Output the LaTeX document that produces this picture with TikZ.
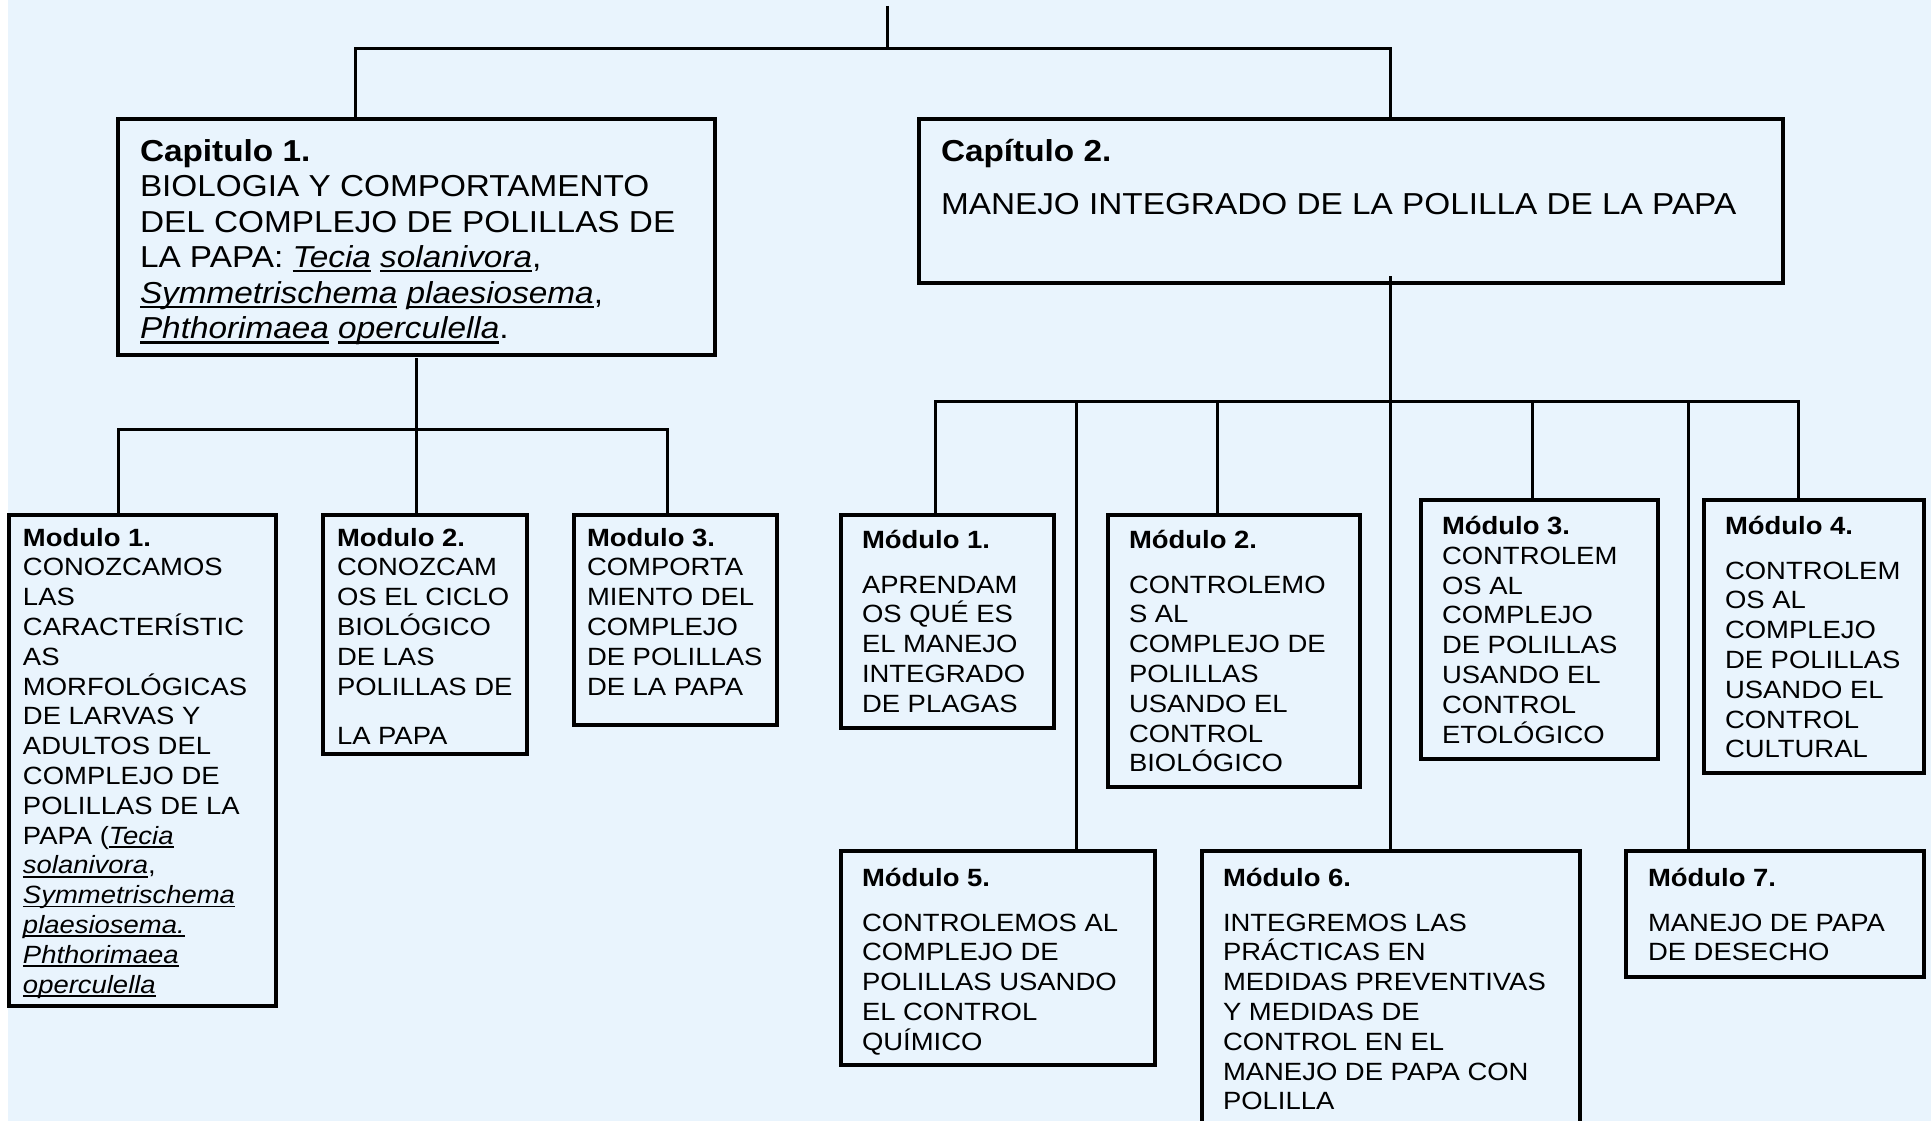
\documentclass[tikz,border=0pt]{standalone}
\usepackage{fontspec}
\setmainfont{Liberation Sans}[FakeStretch=1.1]
\usetikzlibrary{calc}
\definecolor{bg}{RGB}{233,244,253}
\newcommand\uw[1]{{\setbox0=\hbox{\itshape #1}\rlap{\rule[-0.15em]{\wd0}{0.07em}}\box0}}
\newcommand\Lh[1]{\hbox{#1}}
\newcommand\gap[1]{\vskip #1pt}
\newcommand\stack[1]{\vtop{\lineskiplimit=-1000pt\lineskip=0pt #1}}
\newcommand\capfont{\fontsize{30.3}{35.6}\selectfont}
\newcommand\modfont{\fontsize{24.95}{29.8}\selectfont}
\begin{document}
\begin{tikzpicture}[x=1pt,y=-1pt,
  box/.style={draw, line width=3.4pt, rectangle, inner sep=0pt, outer sep=0pt, anchor=north west},
  conn/.style={line width=3pt},
  ctxt/.style={anchor=base west, inner sep=0pt, outer sep=0pt, font=\capfont},
  mtxt/.style={anchor=base west, inner sep=0pt, outer sep=0pt, font=\modfont}]
\useasboundingbox (0,0) rectangle (1931,1121);
\clip (0,0) rectangle (1931,1121);
\fill[white] (0,0) rectangle (1931,1121);
\fill[bg] (8,0) rectangle (1931,1121);

% boxes
\node[box, minimum width=597pt, minimum height=236pt] (c1) at (118,119) {};
\node[box, minimum width=864pt, minimum height=164pt] (c2) at (919,119) {};
\node[box, minimum width=267pt, minimum height=491pt] (a1) at (9,515) {};
\node[box, minimum width=204pt, minimum height=239pt] (a2) at (323,515) {};
\node[box, minimum width=203pt, minimum height=210pt] (a3) at (574,515) {};
\node[box, minimum width=213pt, minimum height=213pt] (b1) at (841,515) {};
\node[box, minimum width=252pt, minimum height=272pt] (b2) at (1108,515) {};
\node[box, minimum width=237pt, minimum height=259pt] (b3) at (1421,500) {};
\node[box, minimum width=220pt, minimum height=273pt] (b4) at (1704,500) {};
\node[box, minimum width=314pt, minimum height=214pt] (b5) at (841,851) {};
\node[box, minimum width=378pt, minimum height=290pt] (b6) at (1202,851) {};
\node[box, minimum width=298pt, minimum height=126pt] (b7) at (1626,851) {};

% texts
\node[ctxt] (c1t) at (140,161) {\stack{%
  \Lh{\bfseries Capitulo 1.}%
  \Lh{BIOLOGIA Y COMPORTAMENTO}%
  \Lh{DEL COMPLEJO DE POLILLAS DE}%
  \Lh{LA PAPA: \uw{Tecia} \uw{solanivora},}%
  \Lh{\uw{Symmetrischema} \uw{plaesiosema},}%
  \Lh{\uw{Phthorimaea} \uw{operculella}.}}};
\node[ctxt] (c2t) at (941,161) {\stack{%
  \Lh{\bfseries Capítulo 2.}\gap{17.4}%
  \Lh{MANEJO INTEGRADO DE LA POLILLA DE LA PAPA}}};

\node[mtxt] (a1t) at (23,546) {\stack{%
  \Lh{\bfseries Modulo 1.}%
  \Lh{CONOZCAMOS}\Lh{LAS}\Lh{CARACTERÍSTIC}\Lh{AS}\Lh{MORFOLÓGICAS}%
  \Lh{DE LARVAS Y}\Lh{ADULTOS DEL}\Lh{COMPLEJO DE}\Lh{POLILLAS DE LA}%
  \Lh{PAPA (\uw{Tecia}}\Lh{\uw{solanivora},}\Lh{\uw{Symmetrischema}}%
  \Lh{\uw{plaesiosema.}}\Lh{\uw{Phthorimaea}}\Lh{\uw{operculella}}}};
\node[mtxt] (a2t) at (337,546) {\stack{%
  \Lh{\bfseries Modulo 2.}%
  \Lh{CONOZCAM}\Lh{OS EL CICLO}\Lh{BIOLÓGICO}\Lh{DE LAS}\Lh{POLILLAS DE}\gap{19.2}%
  \Lh{LA PAPA}}};
\node[mtxt] (a3t) at (587,546) {\stack{%
  \Lh{\bfseries Modulo 3.}%
  \Lh{COMPORTA}\Lh{MIENTO DEL}\Lh{COMPLEJO}\Lh{DE POLILLAS}\Lh{DE LA PAPA}}};

\node[mtxt] (b1t) at (862,548) {\stack{%
  \Lh{\bfseries Módulo 1.}\gap{15.2}%
  \Lh{APRENDAM}\Lh{OS QUÉ ES}\Lh{EL MANEJO}\Lh{INTEGRADO}\Lh{DE PLAGAS}}};
\node[mtxt] (b2t) at (1129,548) {\stack{%
  \Lh{\bfseries Módulo 2.}\gap{15.2}%
  \Lh{CONTROLEMO}\Lh{S AL}\Lh{COMPLEJO DE}\Lh{POLILLAS}\Lh{USANDO EL}\Lh{CONTROL}\Lh{BIOLÓGICO}}};
\node[mtxt] (b3t) at (1442,534.5) {\stack{%
  \Lh{\bfseries Módulo 3.}%
  \Lh{CONTROLEM}\Lh{OS AL}\Lh{COMPLEJO}\Lh{DE POLILLAS}\Lh{USANDO EL}\Lh{CONTROL}\Lh{ETOLÓGICO}}};
\node[mtxt] (b4t) at (1725,534.5) {\stack{%
  \Lh{\bfseries Módulo 4.}\gap{14.7}%
  \Lh{CONTROLEM}\Lh{OS AL}\Lh{COMPLEJO}\Lh{DE POLILLAS}\Lh{USANDO EL}\Lh{CONTROL}\Lh{CULTURAL}}};
\node[mtxt] (b5t) at (862,886.5) {\stack{%
  \Lh{\bfseries Módulo 5.}\gap{14.7}%
  \Lh{CONTROLEMOS AL}\Lh{COMPLEJO DE}\Lh{POLILLAS USANDO}\Lh{EL CONTROL}\Lh{QUÍMICO}}};
\node[mtxt] (b6t) at (1223,886.5) {\stack{%
  \Lh{\bfseries Módulo 6.}\gap{14.7}%
  \Lh{INTEGREMOS LAS}\Lh{PRÁCTICAS EN}\Lh{MEDIDAS PREVENTIVAS}\Lh{Y MEDIDAS DE}%
  \Lh{CONTROL EN EL}\Lh{MANEJO DE PAPA CON}\Lh{POLILLA}}};
\node[mtxt] (b7t) at (1648,886.5) {\stack{%
  \Lh{\bfseries Módulo 7.}\gap{14.7}%
  \Lh{MANEJO DE PAPA}\Lh{DE DESECHO}}};

% connectors
\coordinate (top) at (887,6);
\coordinate (j1) at (355,49);
\coordinate (j2) at (1390,49);
\draw[conn] (top) -- (top |- j1);
\draw[conn] (c1.north -| j1) -- (j1) -- (j2) -- (c2.north -| j2);

\coordinate (k0) at (416,429);
\coordinate (k1) at (118,429);
\coordinate (k3) at (667,429);
\draw[conn, shorten <=3pt] (c1.south -| k0) -- (a2.north -| k0);
\draw[conn] (a1.north -| k1) -- (k1) -- (k3) -- (a3.north -| k3);

\coordinate (m1) at (935,401);
\coordinate (m2) at (1076,401);
\coordinate (m3) at (1217,401);
\coordinate (m5) at (1532,401);
\coordinate (m6) at (1688,401);
\coordinate (m7) at (1798,401);
\draw[conn] ([yshift=7pt]c2.south -| j2) -- (b6.north -| j2);
\draw[conn] (b1.north -| m1) -- (m1) -- (m7) -- (b4.north -| m7);
\draw[conn] (m2) -- (b5.north -| m2);
\draw[conn] (m3) -- (b2.north -| m3);
\draw[conn] (m5) -- (b3.north -| m5);
\draw[conn] (m6) -- (b7.north -| m6);
\end{tikzpicture}
\end{document}
